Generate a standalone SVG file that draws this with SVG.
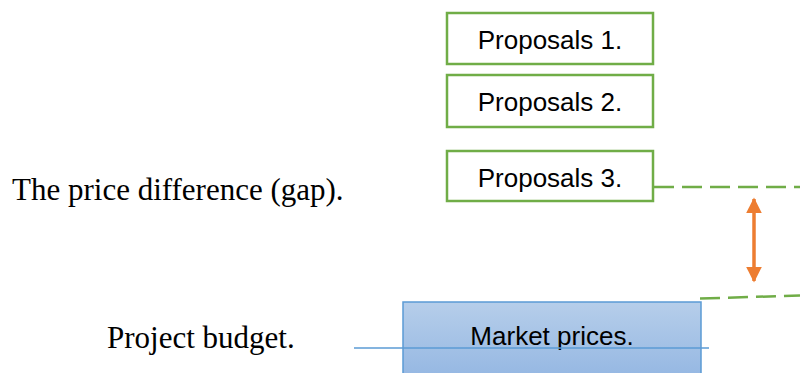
<svg xmlns="http://www.w3.org/2000/svg" width="800" height="373" viewBox="0 0 800 373">
  <style>
    .proposal rect { fill: #ffffff; stroke: #70AD47; stroke-width: 2.5; }
    .boxtext { font-family: "Liberation Sans", Arial, sans-serif; font-size: 26px; fill: #000000; text-anchor: middle; }
    .label { font-family: "Liberation Serif", "Times New Roman", serif; font-size: 31px; fill: #000000; }
    .level { fill: none; stroke: #70AD47; stroke-width: 2.5; stroke-dasharray: 20 8; }
    .gap { stroke: #ED7D31; stroke-width: 3.5; fill: none; }
  </style>
  <defs>
    <linearGradient id="marketFill" x1="0" y1="0" x2="0" y2="1">
      <stop offset="0" stop-color="#B6CEEA"/>
      <stop offset="1" stop-color="#93B6E2"/>
    </linearGradient>
    <marker id="gapHead" viewBox="0 0 10 10" refX="9" refY="5" markerWidth="4.5" markerHeight="4.5" orient="auto-start-reverse" markerUnits="strokeWidth">
      <path d="M0,0 L10,5 L0,10 Z" fill="#ED7D31"/>
    </marker>
  </defs>

  <!-- side labels -->
  <text class="label" x="12" y="200">The price difference (gap).</text>
  <text class="label" x="107" y="348">Project budget.</text>

  <!-- offers -->
  <g id="proposal1" class="proposal">
    <rect x="447" y="13" width="206" height="51"/>
    <text class="boxtext" x="550" y="49">Proposals 1.</text>
  </g>
  <g id="proposal2" class="proposal">
    <rect x="447" y="75" width="206" height="52"/>
    <text class="boxtext" x="550" y="111">Proposals 2.</text>
  </g>
  <g id="proposal3" class="proposal">
    <rect x="447" y="151" width="206" height="50"/>
    <text class="boxtext" x="550" y="187">Proposals 3.</text>
  </g>

  <!-- market price block -->
  <g id="market">
    <rect x="403" y="302" width="298" height="80" fill="url(#marketFill)" stroke="#5B9BD5" stroke-width="1.5"/>
    <text class="boxtext" x="552" y="345">Market prices.</text>
  </g>

  <!-- levels and gap arrow -->
  <g id="connectors">
    <line class="level" x1="654" y1="187" x2="800" y2="187"/>
    <line class="level" x1="700" y1="298.5" x2="800" y2="295.5"/>
    <line class="gap" x1="754" y1="199" x2="754" y2="281" marker-start="url(#gapHead)" marker-end="url(#gapHead)"/>
    <line x1="354" y1="348" x2="709" y2="348" stroke="#5B9BD5" stroke-width="1.5"/>
  </g>
</svg>
